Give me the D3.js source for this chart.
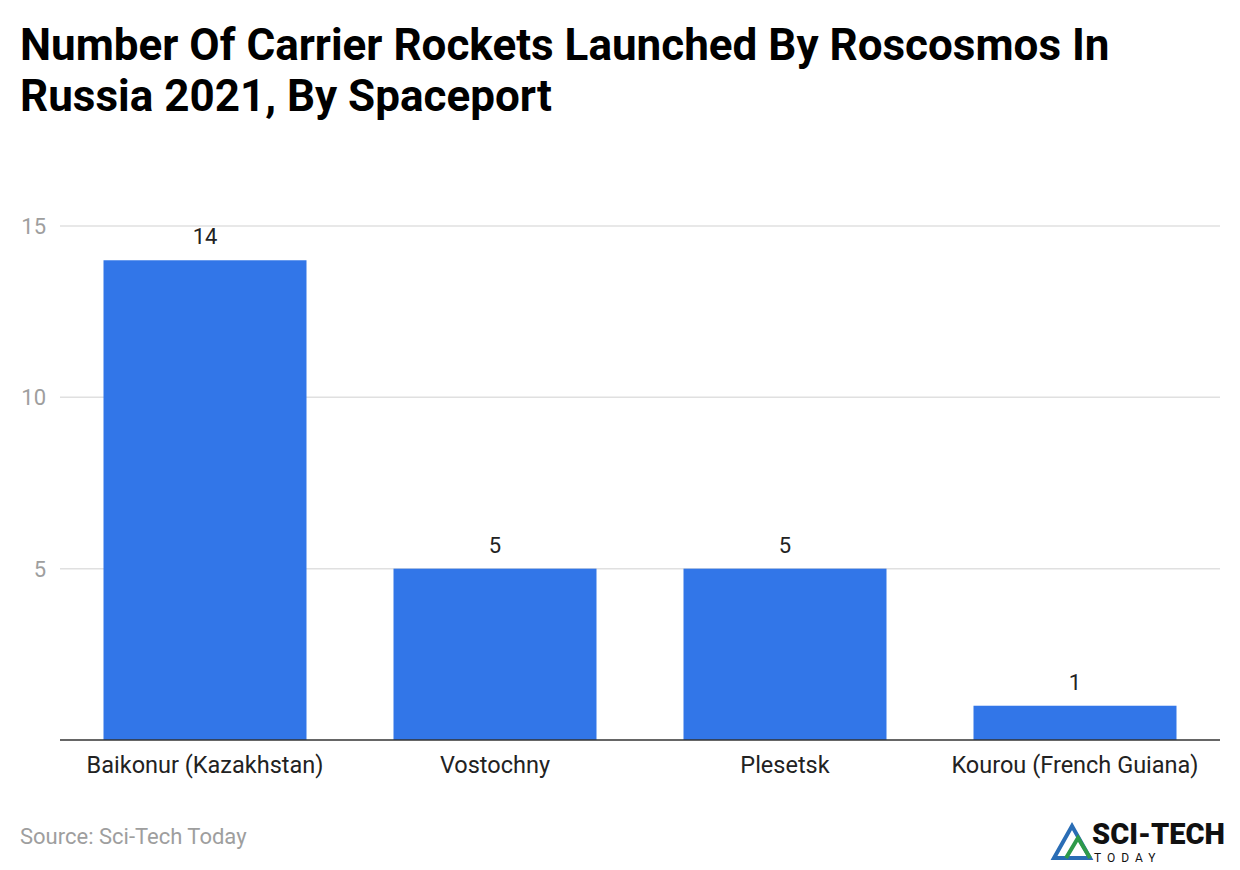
<!DOCTYPE html>
<html><head><meta charset="utf-8">
<script src="https://cdn.jsdelivr.net/npm/d3@7"></script>
<style>body{margin:0;background:#fff;font-family:Roboto,sans-serif}</style>
</head><body><svg id="c" width="1240" height="870"></svg>
<script>
const categories=["Baikonur (Kazakhstan)","Vostochny","Plesetsk","Kourou (French Guiana)"];
const values=[14,5,5,1];
const tickValues=[5,10,15];
const svg=d3.select("#c");
svg.append("text").attr("x",20).attr("y",60).attr("font-size",44).attr("font-weight",700).attr("fill","#000").text("Number Of Carrier Rockets Launched By Roscosmos In");
svg.append("text").attr("x",20).attr("y",111).attr("font-size",44).attr("font-weight",700).attr("fill","#000").text("Russia 2021, By Spaceport");
const x=d3.scaleBand().domain(categories).range([60,1220]).paddingInner(0.3).paddingOuter(0.15);
const y=d3.scaleLinear().domain([0,15]).range([740,226]);
const g=svg.append("g");
tickValues.forEach(t=>{
 g.append("line").attr("x1",60).attr("x2",1220).attr("y1",y(t)).attr("y2",y(t)).attr("stroke","#e0e0e0").attr("stroke-width",1.5);
 g.append("text").attr("x",46).attr("y",y(t)+8).attr("text-anchor","end").attr("font-size",22).attr("fill","#9e9e9e").text(t);
});
g.selectAll("rect.b").data(values).join("rect").attr("x",(d,i)=>x(categories[i])).attr("width",x.bandwidth())
 .attr("y",d=>y(d)).attr("height",d=>y(0)-y(d)).attr("fill","#3276e8");
g.selectAll("text.v").data(values).join("text").attr("x",(d,i)=>x(categories[i])+x.bandwidth()/2).attr("y",d=>y(d)-16)
 .attr("text-anchor","middle").attr("font-size",22).attr("fill","#222").text(d=>d);
g.append("line").attr("x1",60).attr("x2",1220).attr("y1",740).attr("y2",740).attr("stroke","#333").attr("stroke-width",1.5);
g.selectAll("text.c").data(categories).join("text").attr("x",d=>x(d)+x.bandwidth()/2).attr("y",773)
 .attr("text-anchor","middle").attr("font-size",23.5).attr("fill","#222").text(d=>d);
svg.append("text").attr("x",20).attr("y",844).attr("font-size",22).attr("fill","#9e9e9e").text("Source: Sci-Tech Today");
// logo
const L=svg.append("g");
L.append("path").attr("d","M1054,858 L1072,826 L1090,858 Z").attr("fill","none").attr("stroke","#2a6db5").attr("stroke-width",4);
L.append("path").attr("d","M1066,858 L1078,838 L1090,858").attr("fill","none").attr("stroke","#2e9a4a").attr("stroke-width",4);
L.append("text").attr("x",1092).attr("y",844).attr("font-size",29).attr("font-weight",900).attr("fill","#111").text("SCI-TECH");
L.append("text").attr("x",1094).attr("y",862).attr("font-size",12).attr("letter-spacing",6).attr("fill","#111").text("TODAY");
</script></body></html>
